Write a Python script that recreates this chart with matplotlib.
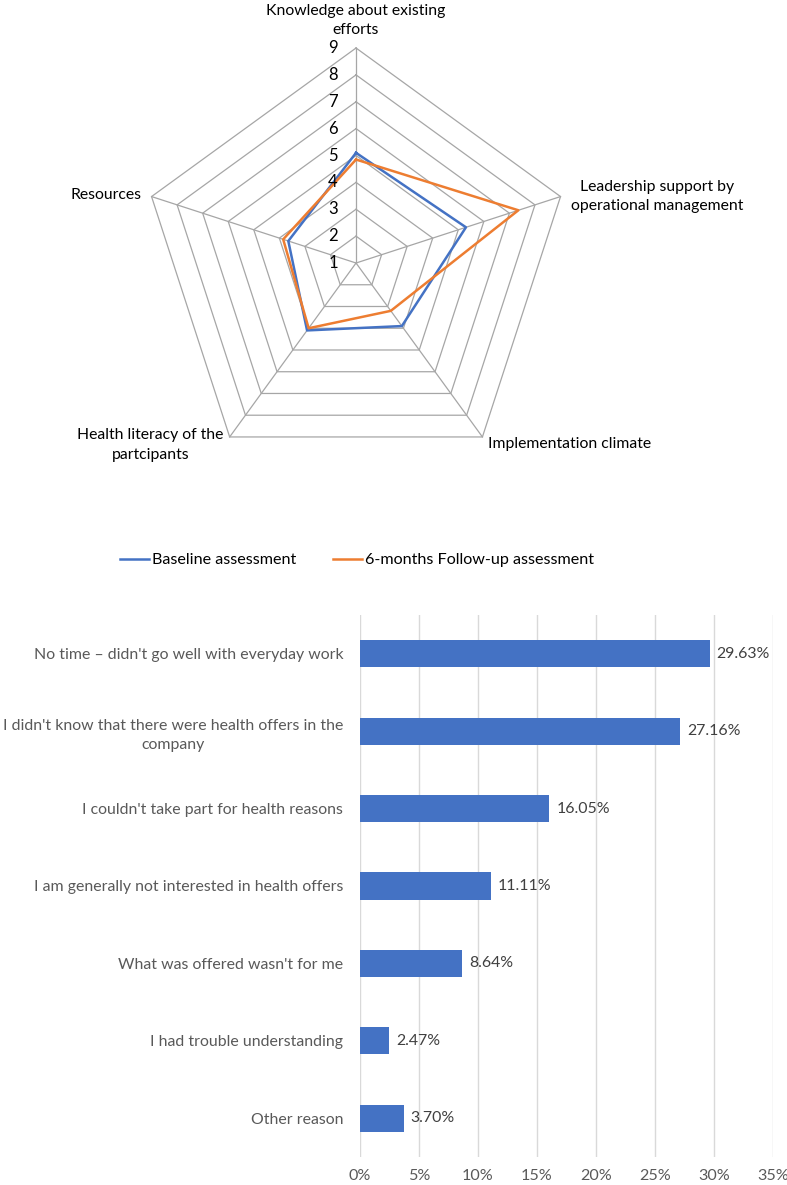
# Radar of implementation factors + bar chart of non-participation reasons

import numpy as np
import matplotlib
matplotlib.use('Agg')
import matplotlib.pyplot as plt

plt.rcParams['font.family'] = ['Lato', 'DejaVu Sans']

dimensions = ["Knowledge about existing\nefforts",
              "Leadership support by\noperational management",
              "Implementation climate",
              "Health literacy of the\npartcipants",
              "Resources"]
baseline = [5.1, 5.3, 3.9, 4.1, 3.65]
followup = [4.85, 7.35, 3.2, 4.0, 3.85]
radar_ticks = [1, 2, 3, 4, 5, 6, 7, 8, 9]
series_names = ["Baseline assessment", "6-months Follow-up assessment"]

reasons = ["No time \u2013 didn't go well with everyday work",
           "I didn't know that there were health offers in the\ncompany",
           "I couldn't take part for health reasons",
           "I am generally not interested in health offers",
           "What was offered wasn't for me",
           "I had trouble understanding",
           "Other reason"]
shares = [29.63, 27.16, 16.05, 11.11, 8.64, 2.47, 3.70]
pct_ticks = [0, 5, 10, 15, 20, 25, 30, 35]

BLUE = '#4472C4'
ORANGE = '#ED7D31'
GRID = '#A6A6A6'

fig = plt.figure(figsize=(7.87, 11.85), dpi=100)

# ---- radar ----
ax = fig.add_axes([0.1792, 0.5966, 0.5464, 0.3629], projection='polar')
ax.set_theta_offset(np.pi / 2)
ax.set_theta_direction(-1)
ax.set_ylim(radar_ticks[0], radar_ticks[-1])
ax.axis('off')

theta = np.arange(len(dimensions)) * 2 * np.pi / len(dimensions)
loop = np.append(theta, theta[0])

for r in radar_ticks[1:]:
    ax.plot(loop, [r] * len(loop), color=GRID, lw=0.9, clip_on=False)
for t in theta:
    ax.plot([t, t], [radar_ticks[0], radar_ticks[-1]], color=GRID, lw=0.9, clip_on=False)

l1, = ax.plot(loop, baseline + baseline[:1], color=BLUE, lw=1.8, clip_on=False)
l2, = ax.plot(loop, followup + followup[:1], color=ORANGE, lw=1.8, clip_on=False)

for r in radar_ticks:
    ax.annotate(str(r), xy=(0, r), xytext=(-23, 0), textcoords='offset pixels',
                ha='center', va='center', fontsize=12, color='black')

label_place = [((0, 11), 'center', 'bottom'),
               ((10, 0), 'left', 'center'),
               ((6, -7), 'left', 'center'),
               ((-6, -8), 'right', 'center'),
               ((-10, 2), 'right', 'center')]
for t, name, (off, ha, va) in zip(theta, dimensions, label_place):
    ax.annotate(name, xy=(t, radar_ticks[-1]), xytext=off, textcoords='offset pixels',
                ha=ha, va=va, multialignment='center', fontsize=11.3, color='black',
                linespacing=1.5)

fig.legend([l1, l2], series_names, loc='center', bbox_to_anchor=(357 / 787, 1 - 560 / 1185),
           ncol=2, frameon=False, handlelength=1.8, handletextpad=0.2, columnspacing=2.3,
           fontsize=11.6)

# ---- bars ----
bx = fig.add_axes([0.4574, 0.02363, 0.5248, 0.4574])
y = np.arange(len(reasons))
bars = bx.barh(y, shares, height=0.35, color=BLUE)
bx.set_ylim(len(reasons) - 0.5, -0.5)
bx.set_xlim(pct_ticks[0], pct_ticks[-1])
bx.set_xticks(pct_ticks, [f'{t}%' for t in pct_ticks])
bx.set_yticks(y, reasons)
for lab in bx.get_yticklabels():
    lab.set_multialignment('center')
    lab.set_linespacing(1.5)
bx.grid(axis='x', color='#D9D9D9', lw=1)
bx.set_axisbelow(True)
for s in bx.spines.values():
    s.set_visible(False)
bx.tick_params(axis='y', length=0, pad=12, labelsize=11.4, labelcolor='#595959')
bx.tick_params(axis='x', length=0, pad=9, labelsize=11.6, labelcolor='#595959')
bx.bar_label(bars, labels=[f'{v:.2f}%' for v in shares], padding=5, fontsize=11.4,
             color='#404040')

fig.savefig('out.png', dpi=100)
